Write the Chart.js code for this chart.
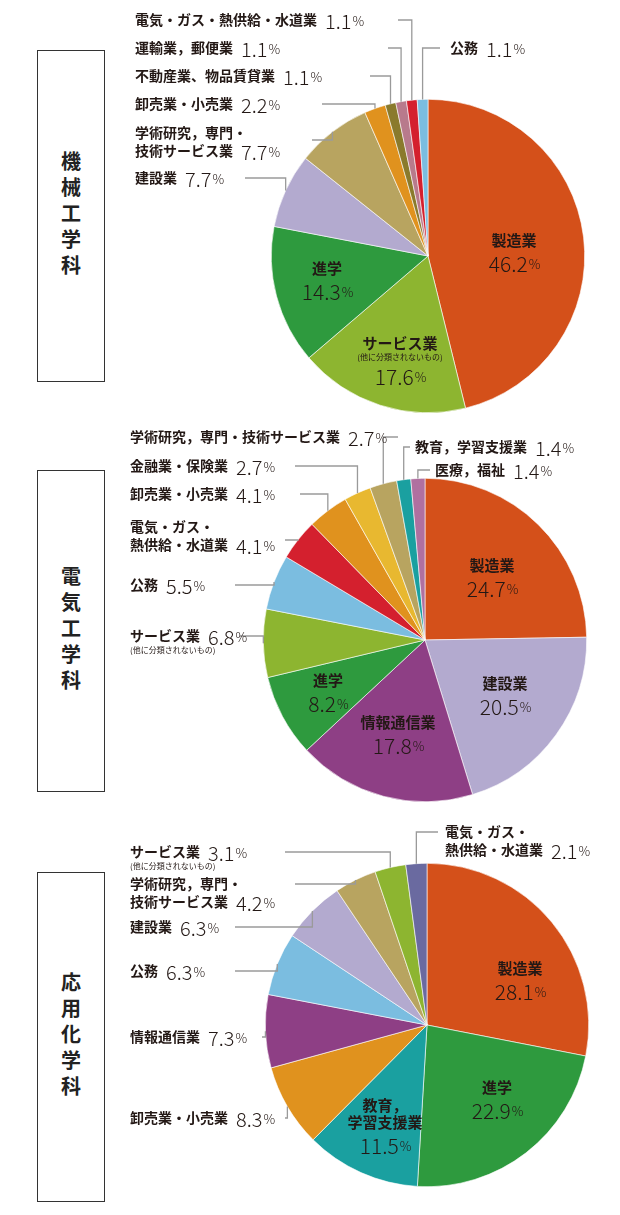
<!DOCTYPE html>
<html><head><meta charset="utf-8">
<script src="https://cdn.jsdelivr.net/npm/chart.js@4"></script>
<style>
body{margin:0;background:#fff;width:620px;height:1215px;position:relative;overflow:hidden;font-family:"Noto Sans CJK JP",sans-serif}
canvas{position:absolute;left:0}
.box{position:absolute;left:37px;width:66px;border:1px solid #333;display:flex;align-items:center;justify-content:center}
.box span{writing-mode:vertical-rl;font-size:20px;font-weight:bold;letter-spacing:6px;color:#222}
</style></head><body>
<div class="box" style="top:50px;height:330px"><span>機械工学科</span></div>
<div class="box" style="top:470px;height:320px"><span>電気工学科</span></div>
<div class="box" style="top:872px;height:328px"><span>応用化学科</span></div>
<canvas id="c1" width="620" height="420" style="top:0"></canvas>
<canvas id="c2" width="620" height="390" style="top:420px"></canvas>
<canvas id="c3" width="620" height="405" style="top:810px"></canvas>
<script>
// 機械工学科
const mechCats = ['製造業','サービス業','進学','建設業','学術研究，専門・技術サービス業','卸売業・小売業','不動産業、物品賃貸業','運輸業，郵便業','電気・ガス・熱供給・水道業','公務'];
const mechVals = [46.2,17.6,14.3,7.7,7.7,2.2,1.1,1.1,1.1,1.1];
const mechColors = ['#d4501a','#8db530','#2e9a3e','#b3aacf','#b8a460','#e0921e','#8a7a2c','#b87a8c','#d4202e','#7bbde0'];
// 電気工学科
const elecCats = ['製造業','建設業','情報通信業','進学','サービス業','公務','電気・ガス・熱供給・水道業','卸売業・小売業','金融業・保険業','学術研究，専門・技術サービス業','教育，学習支援業','医療，福祉'];
const elecVals = [24.7,20.5,17.8,8.2,6.8,5.5,4.1,4.1,2.7,2.7,1.4,1.4];
const elecColors = ['#d4501a','#b3aacf','#8e3f85','#2e9a3e','#8db530','#7bbde0','#d4202e','#e0921e','#e8b830','#b8a460','#1aa0a0','#b070a0'];
// 応用化学科
const chemCats = ['製造業','進学','教育，学習支援業','卸売業・小売業','情報通信業','公務','建設業','学術研究，専門・技術サービス業','サービス業','電気・ガス・熱供給・水道業'];
const chemVals = [28.1,22.9,11.5,8.3,7.3,6.3,6.3,4.2,3.1,2.1];
const chemColors = ['#d4501a','#2e9a3e','#1aa0a0','#e0921e','#8e3f85','#7bbde0','#b3aacf','#b8a460','#8db530','#6a6aa0'];

const JP = '"Noto Sans CJK JP", sans-serif';

// outside labels: slice index, name lines, x, y, leader start
const mechOut = [
  {i:8, lines:['電気・ガス・熱供給・水道業'], x:135, y:20, lx:398, ly:20},
  {i:7, lines:['運輸業，郵便業'], x:135, y:48, lx:388, ly:48},
  {i:6, lines:['不動産業、物品賃貸業'], x:135, y:76, lx:370, ly:76},
  {i:5, lines:['卸売業・小売業'], x:135, y:104, lx:322, ly:104},
  {i:4, lines:['学術研究，専門・','技術サービス業'], x:135, y:133, lx:312, ly:140},
  {i:3, lines:['建設業'], x:135, y:178, lx:245, ly:178},
  {i:9, lines:['公務'], x:450, y:48, lx:440, ly:48}
];
const mechIn = [
  {i:0, lines:['製造業'], x:514, y:240},
  {i:1, lines:['サービス業'], sub:'(他に分類されないもの)', x:400, y:343},
  {i:2, lines:['進学'], x:327, y:268}
];
const elecOut = [
  {i:9, lines:['学術研究，専門・技術サービス業'], x:130, y:17, lx:398, ly:17},
  {i:10, lines:['教育，学習支援業'], x:415, y:27, lx:410, ly:27},
  {i:11, lines:['医療，福祉'], x:435, y:50, lx:430, ly:50},
  {i:8, lines:['金融業・保険業'], x:130, y:46, lx:295, ly:46},
  {i:7, lines:['卸売業・小売業'], x:130, y:74, lx:300, ly:74},
  {i:6, lines:['電気・ガス・','熱供給・水道業'], x:130, y:107, lx:285, ly:120},
  {i:5, lines:['公務'], x:130, y:165, lx:235, ly:165},
  {i:4, lines:['サービス業'], sub:'(他に分類されないもの)', x:130, y:216, lx:240, ly:216}
];
const elecIn = [
  {i:0, lines:['製造業'], x:492, y:145},
  {i:1, lines:['建設業'], x:505, y:263},
  {i:2, lines:['情報通信業'], x:398, y:302},
  {i:3, lines:['進学'], x:328, y:260}
];
const chemOut = [
  {i:9, lines:['電気・ガス・','熱供給・水道業'], x:445, y:22, lx:438, ly:22},
  {i:8, lines:['サービス業'], sub:'(他に分類されないもの)', x:130, y:42, lx:285, ly:42},
  {i:7, lines:['学術研究，専門・','技術サービス業'], x:130, y:74, lx:295, ly:74},
  {i:6, lines:['建設業'], x:130, y:117, lx:235, ly:117},
  {i:5, lines:['公務'], x:130, y:161, lx:235, ly:161},
  {i:4, lines:['情報通信業'], x:130, y:227, lx:262, ly:227},
  {i:3, lines:['卸売業・小売業'], x:130, y:308, lx:285, ly:308}
];
const chemIn = [
  {i:0, lines:['製造業'], x:520, y:158},
  {i:1, lines:['進学'], x:497, y:277},
  {i:2, lines:['教育，','学習支援業'], x:385, y:295}
];

function drawPct(c, v, x, y, align, big) {
  const num = v.toFixed(1), fs = big ? 21 : 20;
  c.font = '300 ' + fs + 'px ' + JP;
  const w1 = c.measureText(num).width;
  c.font = '300 13px ' + JP;
  const w2 = c.measureText('%').width;
  let sx = align === 'center' ? x - (w1 + w2) / 2 : x;
  c.textAlign = 'left';
  c.font = '300 ' + fs + 'px ' + JP;
  c.fillText(num, sx, y);
  c.font = '300 13px ' + JP;
  c.fillText('%', sx + w1 + 1, y);
  return sx + w1 + w2 + 1;
}

const labelPlugin = {
  id: 'labels',
  afterDraw(chart, args, opts) {
    const c = chart.ctx, arcs = chart.getDatasetMeta(0).data, vals = chart.data.datasets[0].data;
    c.save();
    c.textBaseline = 'middle';
    c.fillStyle = '#231815';
    opts.outside.forEach(l => {
      const a = arcs[l.i];
      const mid = (a.startAngle + a.endAngle) / 2;
      const px = a.x + a.outerRadius * Math.cos(mid), py = a.y + a.outerRadius * Math.sin(mid);
      c.strokeStyle = '#9a9a9a'; c.lineWidth = 1.3;
      c.beginPath(); c.moveTo(l.lx, l.ly); c.lineTo(px, l.ly); c.lineTo(px, py); c.stroke();
      c.font = 'bold 14px ' + JP; c.textAlign = 'left';
      let endX = l.x;
      l.lines.forEach((t, k) => {
        c.fillText(t, l.x, l.y + k * 18);
        endX = l.x + c.measureText(t).width;
      });
      const py2 = l.y + (l.lines.length - 1) * 18;
      if (l.sub) {
        c.font = '8px ' + JP;
        c.fillText(l.sub, l.x, l.y + 14);
      }
      c.fillStyle = '#fff'; c.fillRect(endX + 2, py2 - 12, l.lx - endX - 2 > 0 ? 0 : 0, 0);
      c.fillStyle = '#231815';
      const ex = drawPct(c, vals[l.i], endX + 8, py2 + 1, 'left', false);
    });
    opts.inside.forEach(l => {
      c.textAlign = 'center';
      c.font = 'bold 15px ' + JP;
      l.lines.forEach((t, k) => c.fillText(t, l.x, l.y + k * 17));
      let y = l.y + (l.lines.length - 1) * 17 + 24;
      if (l.sub) {
        c.font = '8px ' + JP;
        c.fillText(l.sub, l.x, l.y + 14);
        y += 10;
      }
      drawPct(c, vals[l.i], l.x, y, 'center', true);
    });
    c.restore();
  }
};

function makePie(id, cats, vals, colors, pad, outside, inside) {
  new Chart(document.getElementById(id), {
    type: 'pie',
    data: { labels: cats, datasets: [{ data: vals, backgroundColor: colors, borderColor: '#fff', borderWidth: 0.6 }] },
    options: {
      responsive: false, animation: false,
      layout: { padding: pad },
      plugins: { legend: { display: false }, tooltip: { enabled: false }, labels: { outside, inside } }
    },
    plugins: [labelPlugin]
  });
}

makePie('c1', mechCats, mechVals, mechColors, {left:271, right:35, top:99, bottom:7}, mechOut, mechIn);
makePie('c2', elecCats, elecVals, elecColors, {left:263, right:33, top:58, bottom:8}, elecOut, elecIn);
makePie('c3', chemCats, chemVals, chemColors, {left:265, right:31, top:53, bottom:28}, chemOut, chemIn);
</script>
</body></html>
